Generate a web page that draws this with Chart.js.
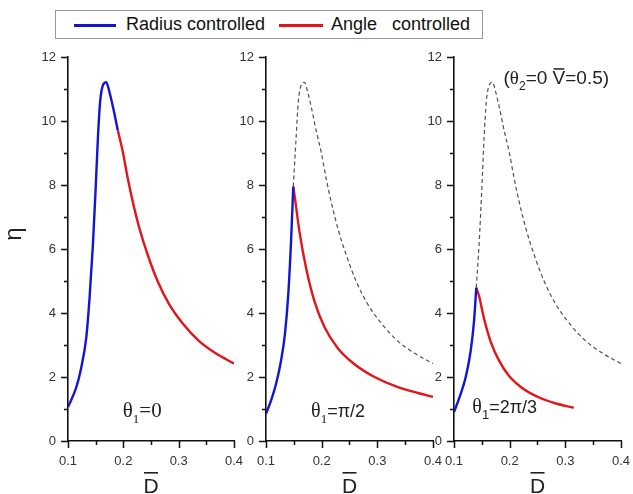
<!DOCTYPE html>
<html>
<head>
<meta charset="utf-8">
<script src="https://cdn.jsdelivr.net/npm/chart.js@4.4.1/dist/chart.umd.min.js"></script>
<style>
  body { margin: 0; background: #fff; }
  #wrap { position: relative; width: 633px; height: 494px; overflow: hidden; font-family: "Liberation Sans", Arial, sans-serif; }
  canvas { position: absolute; top: 46px; }
  #legend { position: absolute; left: 55px; top: 10px; width: 428px; height: 29px; border: 1px solid #999; box-sizing: border-box; }
  #legend .sw { position: absolute; top: 13px; height: 3px; }
  #legend .lb { position: absolute; top: 0; line-height: 27px; font-size: 18px; color: #111; white-space: pre; }
</style>
</head>
<body>
<div id="wrap">
  <div id="legend">
    <span class="sw" style="left:18px;width:42px;background:#1414d2"></span>
    <span class="lb" style="left:70px">Radius controlled</span>
    <span class="sw" style="left:223px;width:44px;background:#e3151a"></span>
    <span class="lb" style="left:275px">Angle   controlled</span>
  </div>
  <canvas id="p1" width="246" height="448" style="left:0px"></canvas>
  <canvas id="p2" width="205" height="448" style="left:240px"></canvas>
  <canvas id="p3" width="213" height="448" style="left:420px"></canvas>
</div>
<script>
'use strict';

// theta1 = 0
const radius1D   = [0.100, 0.115, 0.124, 0.133, 0.139, 0.145, 0.150, 0.154, 0.158, 0.163, 0.169, 0.175, 0.182, 0.190];
const radius1Eta = [1.06, 1.68, 2.30, 3.23, 4.48, 6.13, 7.90, 9.45, 10.59, 11.11, 11.21, 10.90, 10.38, 9.71];
const angle1D    = [0.190, 0.199, 0.208, 0.217, 0.229, 0.244, 0.262, 0.283, 0.307, 0.337, 0.367, 0.400];
const angle1Eta  = [9.71, 9.04, 8.21, 7.48, 6.65, 5.82, 4.99, 4.27, 3.68, 3.12, 2.74, 2.42];

// theta1 = pi/2
const radius2D   = [0.100, 0.109, 0.118, 0.127, 0.134, 0.140, 0.145, 0.149];
const radius2Eta = [0.85, 1.26, 1.78, 2.51, 3.34, 4.58, 6.24, 7.95];
const angle2D    = [0.149, 0.152, 0.160, 0.172, 0.187, 0.205, 0.229, 0.259, 0.295, 0.337, 0.373, 0.400];
const angle2Eta  = [7.95, 7.59, 6.55, 5.41, 4.37, 3.56, 2.90, 2.40, 2.00, 1.68, 1.50, 1.38];

// theta1 = 2pi/3
const radius3D   = [0.100, 0.110, 0.121, 0.130, 0.136, 0.140];
const radius3Eta = [0.90, 1.37, 1.99, 2.82, 3.75, 4.79];
const angle3D    = [0.140, 0.145, 0.154, 0.166, 0.181, 0.199, 0.223, 0.253, 0.282, 0.315];
const angle3Eta  = [4.79, 4.53, 3.82, 3.10, 2.51, 2.03, 1.65, 1.36, 1.18, 1.04];

const xTicks = [0.1, 0.2, 0.3, 0.4];
const yTicks = [0, 2, 4, 6, 8, 10, 12];
const minorX = [0.15, 0.25, 0.35];
const minorY = [1, 3, 5, 7, 9, 11];

const BLUE = '#1414d2', RED = '#e3151a', GREY = '#505050';
const SERIF = '"Liberation Serif", "Times New Roman", serif';
const SANS = '"Liberation Sans", Arial, sans-serif';

function pts(xs, ys) {
  return xs.map(function (x, i) { return { x: x, y: ys[i] }; });
}

// the theta1=0 curve, shown dashed from the peak of the other panels
function refFrom(d0, e0) {
  var all = pts(radius1D.concat(angle1D.slice(1)), radius1Eta.concat(angle1Eta.slice(1)));
  return [{ x: d0, y: e0 }].concat(all.filter(function (p) { return p.x > d0 + 0.002; }));
}

function drawRuns(ctx, x, y, runs) {
  ctx.fillStyle = '#222';
  ctx.textAlign = 'left';
  ctx.textBaseline = 'alphabetic';
  runs.forEach(function (r) {
    ctx.font = r.f;
    var yy = r.sub ? y + 6 : y;
    ctx.fillText(r.t, x, yy);
    var w = ctx.measureText(r.t).width;
    if (r.bar) ctx.fillRect(x + 1, yy - 16, w - 2, 1.5);
    x += w;
  });
}

function makeDecor(cfg) {
  return {
    id: 'decor',
    afterDraw: function (chart) {
      var ctx = chart.ctx, a = chart.chartArea, xs = chart.scales.x, ys = chart.scales.y;
      ctx.save();
      ctx.setLineDash([]);
      ctx.strokeStyle = '#111';
      ctx.lineWidth = 1.5;
      ctx.beginPath();
      // major ticks
      yTicks.forEach(function (v) {
        var p = Math.round(ys.getPixelForValue(v)) + 0.5;
        ctx.moveTo(a.left - 7, p); ctx.lineTo(a.left, p);
      });
      xTicks.forEach(function (v) {
        var p = Math.round(xs.getPixelForValue(v)) + 0.5;
        ctx.moveTo(p, a.bottom); ctx.lineTo(p, a.bottom + 7);
      });
      // minor ticks
      minorY.forEach(function (v) {
        var p = Math.round(ys.getPixelForValue(v)) + 0.5;
        ctx.moveTo(a.left - 4, p); ctx.lineTo(a.left, p);
      });
      minorX.forEach(function (v) {
        var p = Math.round(xs.getPixelForValue(v)) + 0.5;
        ctx.moveTo(p, a.bottom); ctx.lineTo(p, a.bottom + 4);
      });
      ctx.stroke();

      // x title: D with overbar
      var cx = (a.left + a.right) / 2;
      ctx.fillStyle = '#222';
      ctx.font = '21px ' + SANS;
      ctx.textAlign = 'center';
      ctx.textBaseline = 'alphabetic';
      ctx.fillText('D', cx, 447);
      ctx.fillRect(cx - 7, 426, 14, 1.6);

      // y title
      if (cfg.eta) {
        ctx.save();
        ctx.translate(14.5, 188);
        ctx.rotate(-Math.PI / 2);
        ctx.font = '24px ' + SANS;
        ctx.textAlign = 'center';
        ctx.textBaseline = 'middle';
        ctx.fillText('η', 0, 0);
        ctx.restore();
      }

      cfg.texts.forEach(function (t) {
        drawRuns(ctx, xs.getPixelForValue(t.x), ys.getPixelForValue(t.y), t.runs);
      });
      ctx.restore();
    }
  };
}

function makePanel(cfg) {
  var datasets = [
    { data: pts(cfg.rD, cfg.rE), borderColor: BLUE, borderWidth: 2.4, order: 1 },
    { data: pts(cfg.aD, cfg.aE), borderColor: RED, borderWidth: 2.4, order: 1 }
  ];
  if (cfg.ref) {
    datasets.push({ data: refFrom(cfg.rD[cfg.rD.length - 1], cfg.rE[cfg.rE.length - 1]),
      borderColor: GREY, borderWidth: 1.2, borderDash: [4, 3], order: 2 });
  }
  datasets.forEach(function (d) {
    d.pointRadius = 0;
    d.fill = false;
    d.showLine = true;
    d.cubicInterpolationMode = 'monotone';
  });

  var tickFont = { family: SANS, size: 13 };
  new Chart(document.getElementById(cfg.id), {
    type: 'scatter',
    data: { datasets: datasets },
    plugins: [makeDecor(cfg)],
    options: {
      responsive: false,
      animation: false,
      events: [],
      layout: { padding: { top: 11, right: 12, left: 0, bottom: 0 } },
      plugins: { legend: { display: false }, tooltip: { enabled: false } },
      scales: {
        x: {
          type: 'linear', min: 0.1, max: 0.4,
          afterBuildTicks: function (s) { s.ticks = xTicks.map(function (v) { return { value: v }; }); },
          ticks: { font: tickFont, color: '#333', padding: 13, maxRotation: 0,
            callback: function (v) { return v.toFixed(1); } },
          grid: { drawOnChartArea: false, drawTicks: false, tickLength: 7 },
          border: { display: true, color: '#111', width: 1.6 },
          afterFit: function (s) { s.height = 53; s.paddingLeft = 0; s.paddingRight = 0; }
        },
        y: {
          type: 'linear', min: 0, max: 12,
          afterBuildTicks: function (s) { s.ticks = yTicks.map(function (v) { return { value: v }; }); },
          ticks: { font: tickFont, color: '#333', padding: 12 },
          grid: { drawOnChartArea: false, drawTicks: false, tickLength: 7 },
          border: { display: true, color: '#111', width: 1.6 },
          afterFit: function (s) { s.width = cfg.yWidth; s.paddingTop = 0; s.paddingBottom = 0; }
        }
      }
    }
  });
}

makePanel({
  id: 'p1', yWidth: 68, eta: true, ref: false,
  rD: radius1D, rE: radius1Eta, aD: angle1D, aE: angle1Eta,
  texts: [{ x: 0.199, y: 0.75, runs: [
    { t: 'θ', f: '21px ' + SERIF }, { t: '1', f: '13px ' + SERIF, sub: true }, { t: '=0', f: '21px ' + SERIF }] }]
});

makePanel({
  id: 'p2', yWidth: 26, eta: false, ref: true,
  rD: radius2D, rE: radius2Eta, aD: angle2D, aE: angle2Eta,
  texts: [{ x: 0.181, y: 0.75, runs: [
    { t: 'θ', f: '20px ' + SERIF }, { t: '1', f: '13px ' + SERIF, sub: true }, { t: '=π/2', f: '18px ' + SANS }] }]
});

makePanel({
  id: 'p3', yWidth: 34, eta: false, ref: true,
  rD: radius3D, rE: radius3Eta, aD: angle3D, aE: angle3Eta,
  texts: [
    { x: 0.133, y: 0.875, runs: [
      { t: 'θ', f: '20px ' + SERIF }, { t: '1', f: '13px ' + SANS, sub: true }, { t: '=2π/3', f: '18px ' + SANS }] },
    { x: 0.189, y: 11.15, runs: [
      { t: '(', f: '19px ' + SANS }, { t: 'θ', f: '19px ' + SERIF }, { t: '2', f: '12px ' + SANS, sub: true },
      { t: '=0 ', f: '19px ' + SANS }, { t: 'V', f: '19px ' + SANS, bar: true }, { t: '=0.5)', f: '19px ' + SANS }] }
  ]
});
</script>
</body>
</html>
